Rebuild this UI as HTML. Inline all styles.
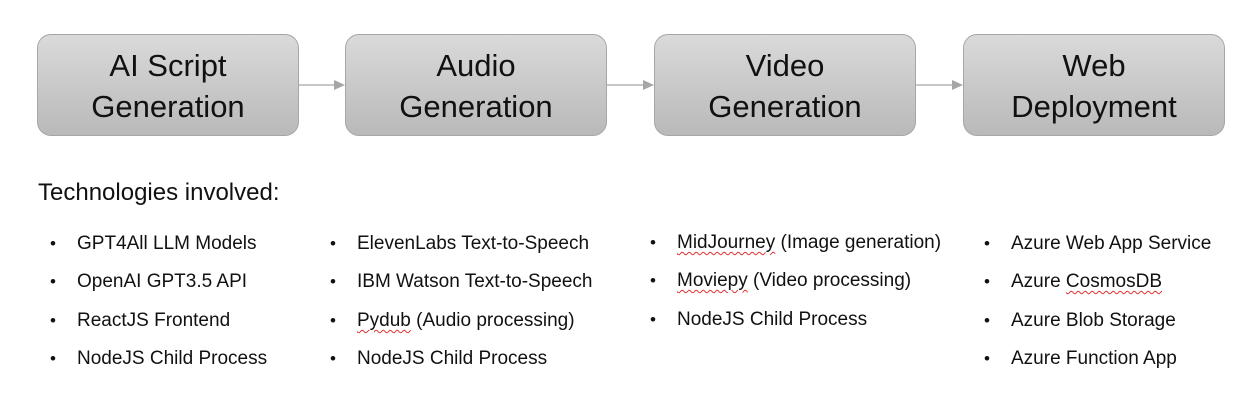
<!DOCTYPE html>
<html><head><style>
body{margin:0;width:1253px;height:404px;background:#fff;position:relative;font-family:"Liberation Sans",sans-serif;overflow:hidden}
.box{position:absolute;top:34px;width:262px;height:102px;border:1px solid #a6a6a6;border-radius:14px;box-sizing:border-box;background:linear-gradient(#dadada,#b9b9b9);display:flex;align-items:center;justify-content:center;text-align:center;font-size:31px;line-height:41px;color:#111;padding-top:2px}
.t{position:absolute;font-size:19px;color:#111;white-space:nowrap}
.b{position:absolute;font-size:17px;color:#111}
.h{position:absolute;left:38px;top:179px;font-size:24px;color:#111}
.u{text-decoration:underline wavy #e03030;text-decoration-thickness:1px;text-underline-offset:3px}
</style></head><body>
<div class="box" style="left:37px">AI Script<br>Generation</div>
<div class="box" style="left:345px">Audio<br>Generation</div>
<div class="box" style="left:654px">Video<br>Generation</div>
<div class="box" style="left:963px">Web<br>Deployment</div>
<svg width="1253" height="404" style="position:absolute;left:0;top:0">
<g stroke="#a6a6a6" stroke-width="1.2" fill="#a6a6a6">
<line x1="299" y1="85" x2="337" y2="85"/><polygon points="334,80 345,85 334,90" stroke="none"/>
<line x1="607" y1="85" x2="646" y2="85"/><polygon points="643,80 654,85 643,90" stroke="none"/>
<line x1="916" y1="85" x2="955" y2="85"/><polygon points="952,80 963,85 952,90" stroke="none"/>
</g></svg>
<div class="h">Technologies involved:</div>
<div id="c"></div>
<script>
var cols=[[53,77,["GPT4All LLM Models","OpenAI GPT3.5 API","ReactJS Frontend","NodeJS Child Process"]],
[333,357,["ElevenLabs Text-to-Speech","IBM Watson Text-to-Speech","<span class=u>Pydub</span> (Audio processing)","NodeJS Child Process"]],
[653,677,["<span class=u>MidJourney</span> (Image generation)","<span class=u>Moviepy</span> (Video processing)","NodeJS Child Process"]],
[987,1011,["Azure Web App Service","Azure <span class=u>CosmosDB</span>","Azure Blob Storage","Azure Function App"]]];
var ys=[244,282,321,359],h="";
cols.forEach(function(c){c[2].forEach(function(s,i){var y=ys[i]-11;if(c[0]==653)y-=1;
h+='<div class="b" style="left:'+(c[0]-3)+'px;top:'+(y+1)+'px">•</div><div class="t" style="left:'+c[1]+'px;top:'+y+'px">'+s+'</div>';});});
document.getElementById('c').innerHTML=h;
</script>
</body></html>
